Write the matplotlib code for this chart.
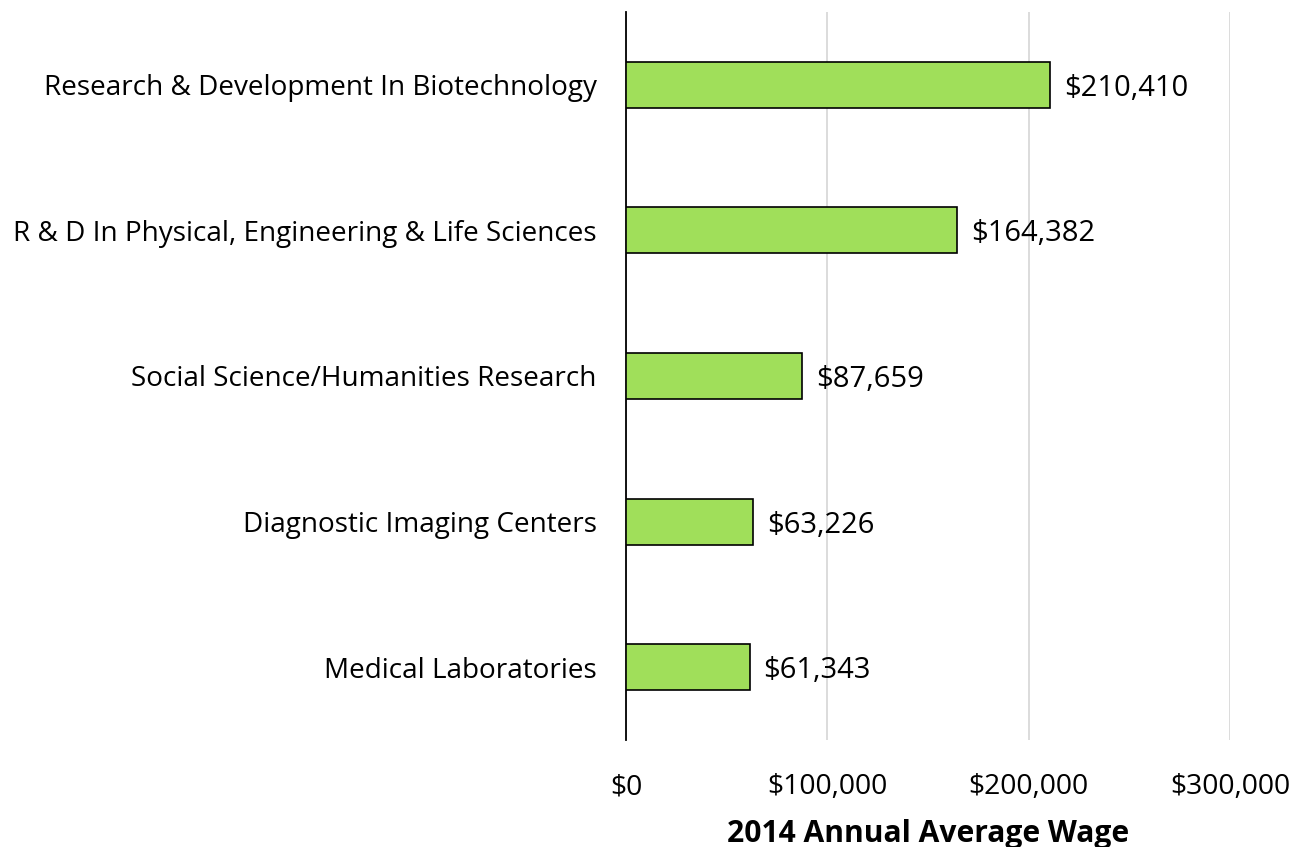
import matplotlib
matplotlib.use("Agg")
import matplotlib.pyplot as plt

categories = ["Research & Development In Biotechnology",
              "R & D In Physical, Engineering & Life Sciences",
              "Social Science/Humanities Research",
              "Diagnostic Imaging Centers",
              "Medical Laboratories"]
wages = [210410, 164382, 87659, 63226, 61343]
xticks = [0, 100000, 200000, 300000]
xtick_labels = ["$0", "$100,000", "$200,000", "$300,000"]

plt.rcParams['font.family'] = ['Open Sans', 'DejaVu Sans']

fig = plt.figure(figsize=(12.93, 8.47), dpi=100)
ax = fig.add_axes([626/1293, 1-740/847, (1230-626)/1293, 728/847])

ypos = list(range(len(categories)))
ax.barh(ypos, wages, height=0.315, color='#A0DF5A', edgecolor='black', linewidth=1.2, zorder=3)
for y, v in zip(ypos, wages):
    ax.text(v + 7000, y, f"${v:,}", va='center_baseline', ha='left', fontsize=21)

ax.set_ylim(len(categories) - 0.5, -0.5)
ax.set_xlim(0, 300000)
ax.set_yticks(ypos)
ax.set_yticklabels(categories, fontsize=20.1)
ax.set_xticks(xticks)
ax.set_xticklabels(xtick_labels, fontsize=20.3)
ax.tick_params(axis='y', length=0, pad=21)
ax.tick_params(axis='x', length=0, pad=24)
ax.xaxis.grid(True, color='#D9D9D9', linewidth=1.3, zorder=0)
ax.set_axisbelow(True)
for s in ['top', 'right', 'bottom']:
    ax.spines[s].set_visible(False)
ax.spines['left'].set_linewidth(1.3)
ax.set_xlabel("2014 Annual Average Wage", fontsize=21.6, fontweight='bold', labelpad=13)

fig.savefig("out.png", dpi=100)
